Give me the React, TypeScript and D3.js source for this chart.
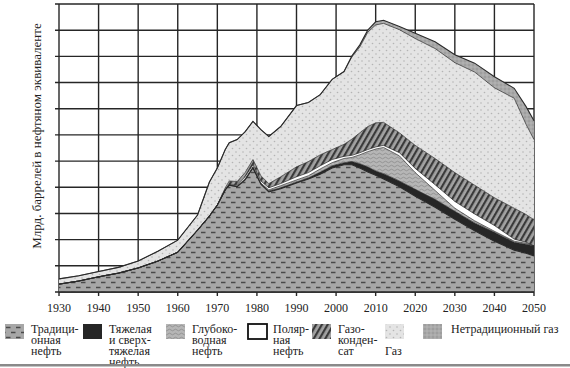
import * as d3 from 'd3';

// годы и слои (млрд баррелей н.э., оценка по рисунку)
const years = [1930, 1935, 1940, 1945, 1950, 1955, 1960, 1965, 1968, 1970, 1972, 1973, 1975, 1977, 1979, 1981, 1983, 1986, 1990, 1993, 1996, 1999, 2002, 2004, 2006, 2008, 2010, 2012, 2016, 2020, 2025, 2030, 2035, 2040, 2045, 2048, 2050];
const conventional = [1.5, 2.1, 2.9, 3.6, 4.6, 5.9, 7.6, 11.8, 14.5, 16.6, 19.5, 20.4, 20.1, 21.4, 23.7, 20.6, 19.1, 19.7, 20.8, 21.6, 22.5, 23.7, 24.3, 24.3, 23.7, 22.9, 22.3, 21.6, 20.1, 18.3, 16.2, 13.9, 11.7, 9.7, 8.0, 7.4, 6.9];
const heavy = [0, 0, 0, 0, 0, 0, 0, 0, 0, 0, 0, 0, 0, 0, 0, 0, 0.2, 0.2, 0.2, 0.2, 0.4, 0.4, 0.4, 0.6, 0.8, 1.0, 0.8, 1.0, 1.1, 1.3, 1.5, 1.5, 1.5, 1.7, 1.5, 1.7, 1.9];
const deepwater = [0, 0, 0, 0, 0, 0, 0, 0, 0, 0, 0, 0, 0.2, 0.2, 0.2, 0.2, 0.2, 0.4, 0.4, 0.4, 0.6, 0.6, 0.8, 0.8, 1.7, 2.9, 4.2, 5.0, 4.8, 3.2, 1.7, 0.6, 0.4, 0.2, 0.2, 0.2, 0];
const polar = [0, 0, 0, 0, 0, 0, 0, 0, 0, 0, 0, 0, 0.2, 0.4, 0.4, 0.4, 0.4, 0.4, 0.6, 0.6, 0.6, 0.6, 0.4, 0.4, 0.4, 0.4, 0.4, 0.4, 0.6, 0.8, 1.1, 1.3, 1.3, 1.1, 0.4, 0.2, 0];
const condensate = [0, 0, 0, 0, 0, 0, 0, 0, 0, 0, 0.4, 0.8, 0.6, 0.8, 1.0, 1.0, 0.8, 1.3, 1.9, 2.1, 2.1, 1.9, 2.3, 3.1, 3.8, 4.4, 4.6, 4.4, 3.8, 4.4, 5.0, 5.5, 5.5, 5.3, 5.9, 5.3, 5.0];
const gas = [1.0, 1.0, 1.0, 1.1, 1.3, 1.9, 2.3, 2.9, 6.5, 7.1, 7.3, 7.3, 8.0, 7.8, 7.3, 8.8, 9.0, 9.6, 11.7, 11.3, 11.5, 13.4, 13.9, 15.7, 16.4, 18.0, 18.7, 18.9, 19.7, 20.4, 21.0, 21.0, 21.6, 21.0, 21.0, 17.2, 15.3];
const unconvGas = [0, 0, 0, 0, 0, 0, 0, 0, 0, 0, 0, 0, 0, 0, 0, 0, 0, 0, 0, 0, 0, 0, 0, 0.2, 0.4, 0.4, 0.6, 0.6, 0.6, 1.0, 1.3, 1.5, 1.7, 2.1, 1.9, 3.4, 3.6];

const xTicks = [1930, 1940, 1950, 1960, 1970, 1980, 1990, 2000, 2010, 2020, 2030, 2040, 2050];
const yTicks = [0, 5, 10, 15, 20, 25, 30, 35, 40, 45, 50, 55];
const yTitle = 'Млрд. баррелей в нефтяном эквиваленте';

const keys = ['conv', 'heavy', 'deep', 'polar', 'cond', 'gas', 'ugas'];
const fills: Record<string, string> = {
  conv: 'url(#pConv)', heavy: '#262626', deep: 'url(#pDeep)', polar: '#ffffff',
  cond: 'url(#pCond)', gas: 'url(#pGas)', ugas: 'url(#pUgas)',
};

const legendItems = [
  { key: 'conv', x: 5, tx: 31, lines: ['Традици-', 'онная', 'нефть'] },
  { key: 'heavy', x: 83, tx: 109, lines: ['Тяжелая', 'и сверх-', 'тяжелая', 'нефть'] },
  { key: 'deep', x: 166, tx: 192, lines: ['Глубоко-', 'водная', 'нефть'] },
  { key: 'polar', x: 248, tx: 273, lines: ['Поляр-', 'ная', 'нефть'] },
  { key: 'cond', x: 312, tx: 338, lines: ['Газо-', 'конден-', 'сат'] },
  { key: 'gas', x: 385, tx: 385, lines: ['', '', 'Газ'] },
  { key: 'ugas', x: 423, tx: 451, lines: ['Нетрадиционный газ'] },
];

const SERIF = 'Liberation Serif';

export default function App() {
  const width = 570;
  const height = 368;
  const left = 59, right = 534, top = 4, bottom = 292;

  const x = d3.scaleLinear().domain([1930, 2050]).range([left, right]);
  const y = d3.scaleLinear().domain([0, 55]).range([bottom, top]);

  const table = years.map((yr, i) => ({
    year: yr, conv: conventional[i], heavy: heavy[i], deep: deepwater[i], polar: polar[i],
    cond: condensate[i], gas: gas[i], ugas: unconvGas[i],
  }));
  const series = d3.stack<any>().keys(keys)(table);

  const area = d3.area<any>()
    .x(d => x(d.data.year))
    .y0(d => y(d[0]))
    .y1(d => y(d[1]));
  const topLine = d3.line<any>()
    .x(d => x(d.data.year))
    .y(d => y(d[1]));

  return (
    <svg width={width} height={height} style={{ display: 'block', background: '#fff' }}>
      <style>{`body{margin:0} svg text{font-family:"Liberation Serif","Times New Roman",Times,serif}`}</style>
      <defs>
        <pattern id="pConv" width="10" height="10" patternUnits="userSpaceOnUse">
          <rect width="10" height="10" fill="#a7a7a7" />
          <path d="M1 2.5h4.5M6 7.5h4.5M0 7.5h0.5" stroke="#4a4a4a" strokeWidth="1.3" />
        </pattern>
        <pattern id="pGas" width="7" height="7" patternUnits="userSpaceOnUse">
          <rect width="7" height="7" fill="#e4e4e4" />
          <circle cx="1.5" cy="1.5" r="0.8" fill="#b4b4b4" />
          <circle cx="5" cy="5" r="0.8" fill="#b4b4b4" />
        </pattern>
        <pattern id="pUgas" width="4" height="4" patternUnits="userSpaceOnUse">
          <rect width="4" height="4" fill="#a9a9a9" />
          <circle cx="1" cy="1" r="0.7" fill="#8c8c8c" />
          <circle cx="3" cy="3" r="0.7" fill="#bdbdbd" />
        </pattern>
        <pattern id="pDeep" width="6" height="4" patternUnits="userSpaceOnUse">
          <rect width="6" height="4" fill="#b6b6b6" />
          <path d="M0 2q1.5 -1.6 3 0t3 0" fill="none" stroke="#8a8a8a" strokeWidth="0.8" />
        </pattern>
        <pattern id="pCond" width="5" height="5" patternUnits="userSpaceOnUse" patternTransform="rotate(30)">
          <rect width="5" height="5" fill="#a2a2a2" />
          <rect width="2.2" height="5" fill="#3a3a3a" />
        </pattern>
      </defs>

      {/* сетка */}
      <g stroke="#262626" strokeWidth="1.4">
        {yTicks.map(t => (
          <line key={'h' + t} x1={left - 4} x2={right} y1={y(t)} y2={y(t)} />
        ))}
        {xTicks.map(t => (
          <line key={'v' + t} x1={x(t)} x2={x(t)} y1={top} y2={bottom + 4} />
        ))}
      </g>

      {/* слои */}
      {series.map(s => (
        <path key={s.key} d={area(s) || ''} fill={fills[s.key]} />
      ))}
      {series.map(s => (
        <path key={'l' + s.key} d={topLine(s) || ''} fill="none" stroke="#2a2a2a"
          strokeWidth={s.key === 'ugas' || s.key === 'conv' ? 1.1 : 0.7} />
      ))}
      <line x1={left} x2={right} y1={bottom} y2={bottom} stroke="#262626" strokeWidth="1.4" />

      {/* подписи оси X */}
      <g fontSize="12" textAnchor="middle" fill="#222" fontFamily={SERIF}>
        {xTicks.map(t => (
          <text key={t} x={x(t)} y={312} fontFamily={SERIF}>{t}</text>
        ))}
      </g>

      <text transform={`translate(41, 136) rotate(-90)`} textAnchor="middle" fontSize="13" fill="#222" fontFamily={SERIF}>
        {yTitle}
      </text>

      {/* легенда */}
      <g fontSize="12" fill="#222" fontFamily={SERIF}>
        {legendItems.map(it => (
          <g key={it.key}>
            <rect x={it.x} y={324} width={19} height={15} fill={fills[it.key]}
              stroke={it.key === 'polar' ? '#111' : 'none'} strokeWidth={it.key === 'polar' ? 1.8 : 0} />
            <text x={it.tx} y={333} fontFamily={SERIF}>
              {it.lines.map((ln, i) => (
                <tspan key={i} x={it.tx} y={333 + i * 11}>{ln}</tspan>
              ))}
            </text>
          </g>
        ))}
      </g>
      <rect x={0} y={364} width={width} height={2.5} fill="#8a8a8a" />
    </svg>
  );
}
